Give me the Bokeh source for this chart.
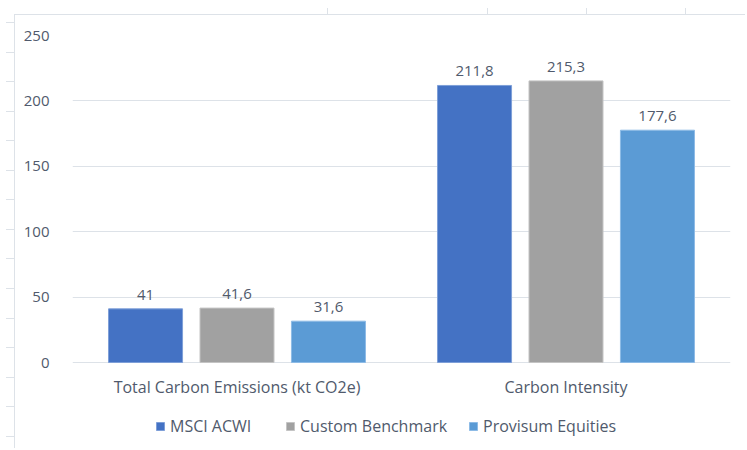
from bokeh.plotting import figure
from bokeh.models import ColumnDataSource, Range1d, FactorRange, LabelSet, Legend, LegendItem, FixedTicker
from bokeh.core.properties import value
from bokeh.transform import dodge
from bokeh.embed import file_html
from bokeh.resources import INLINE

categories = ["Total Carbon Emissions (kt CO2e)", "Carbon Intensity"]
series_names = ["MSCI ACWI", "Custom Benchmark", "Provisum Equities"]
msci = [41.0, 211.8]
custom = [41.6, 215.3]
provisum = [31.6, 177.6]
y_ticks = [0, 50, 100, 150, 200, 250]

colors = ["#4472c4", "#a1a1a1", "#5b9bd5"]
edge_colors = ["#7e9fd8", "#c4c4c4", "#8dbbe6"]
offsets = [-0.278, 0.0, 0.278]
TEXT = "#505a6c"
FONT = "Open Sans"

W, H = 745, 448
TOP, LEFT, RIGHT = 35, 72, 15
ZERO_PX = 362            # pixel row of the value 0
Y_MAX = 250
px_per_unit = (ZERO_PX - TOP) / Y_MAX
y_start = -(H - ZERO_PX) / px_per_unit   # frame reaches down to the bottom edge


def fmt(v):
    s = ("%g" % v)
    return s.replace(".", ",")


src = ColumnDataSource(dict(
    cat=categories,
    msci=msci, custom=custom, provisum=provisum,
    msci_lbl=[fmt(v) for v in msci],
    custom_lbl=[fmt(v) for v in custom],
    provisum_lbl=[fmt(v) for v in provisum],
))

p = figure(x_range=FactorRange(*categories), y_range=Range1d(y_start, Y_MAX),
           width=W, height=H, output_backend="svg", toolbar_location=None,
           min_border_left=LEFT, min_border_right=RIGHT, min_border_top=TOP, min_border_bottom=0)
p.border_fill_color = None
p.background_fill_color = None
p.outline_line_color = None
p.xaxis.visible = False

grid_c = "#dde2e8"
g = "linear-gradient(%s,%s)" % (grid_c, grid_c)
bgs, pos, size = [], [], []
bgs.append(g); pos.append("14px 14px"); size.append("1px 100%")
bgs.append(g); pos.append("14px 14px"); size.append("100% 1px")
bgs.append("repeating-linear-gradient(to bottom, %s 0px, %s 1px, transparent 1px, transparent 29.55px)" % (grid_c, grid_c))
pos.append("6px 21.7px"); size.append("8px 100%")
for xx in [327, 487, 586, 685]:
    bgs.append(g); pos.append("%dpx 8px" % xx); size.append("1px 6px")
p.styles = {
    "background-image": ", ".join(bgs),
    "background-position": ", ".join(pos),
    "background-size": ", ".join(size),
    "background-repeat": "no-repeat",
}

fields = ["msci", "custom", "provisum"]
renderers = []
for f, c, ec, off in zip(fields, colors, edge_colors, offsets):
    r = p.vbar(x=dodge("cat", off, range=p.x_range), top=f, bottom=0, width=0.225, source=src,
               fill_color=c, line_color=ec, line_width=1)
    renderers.append(r)
    lbl = LabelSet(x=dodge("cat", off, range=p.x_range), y=f, text=f + "_lbl", source=src,
                   text_align="center", text_baseline="bottom", y_offset=9,
                   text_font=value(FONT), text_font_size="15px", text_color=TEXT)
    p.add_layout(lbl)

# category labels below the zero line
p.text(x="cat", y=0, text="cat", source=src, text_align="center", text_baseline="middle",
       y_offset=24, text_font=value(FONT), text_font_size="16px", text_color=TEXT)

p.xgrid.grid_line_color = None
p.ygrid.grid_line_color = grid_c
p.ygrid.grid_line_width = 1
p.yaxis.ticker = FixedTicker(ticks=y_ticks)
ax = p.yaxis[0]
ax.axis_line_color = None
ax.major_tick_line_color = None
ax.minor_tick_line_color = None
ax.major_label_text_font = FONT
ax.major_label_text_color = TEXT
ax.major_label_text_font_size = "15px"
ax.major_label_standoff = 17

legend_x = [83, 213, 396]
for n, r, lx in zip(series_names, renderers, legend_x):
    lg = Legend(items=[LegendItem(label=n, renderers=[r])], location=(lx, 11))
    lg.glyph_width = 10
    lg.glyph_height = 10
    lg.label_standoff = 5
    lg.padding = 0
    lg.margin = 0
    lg.border_line_color = None
    lg.background_fill_color = None
    lg.background_fill_alpha = 0
    lg.label_text_font = FONT
    lg.label_text_font_size = "16px"
    lg.label_text_color = TEXT
    p.add_layout(lg)

open("out.html", "w").write(file_html(p, INLINE))
